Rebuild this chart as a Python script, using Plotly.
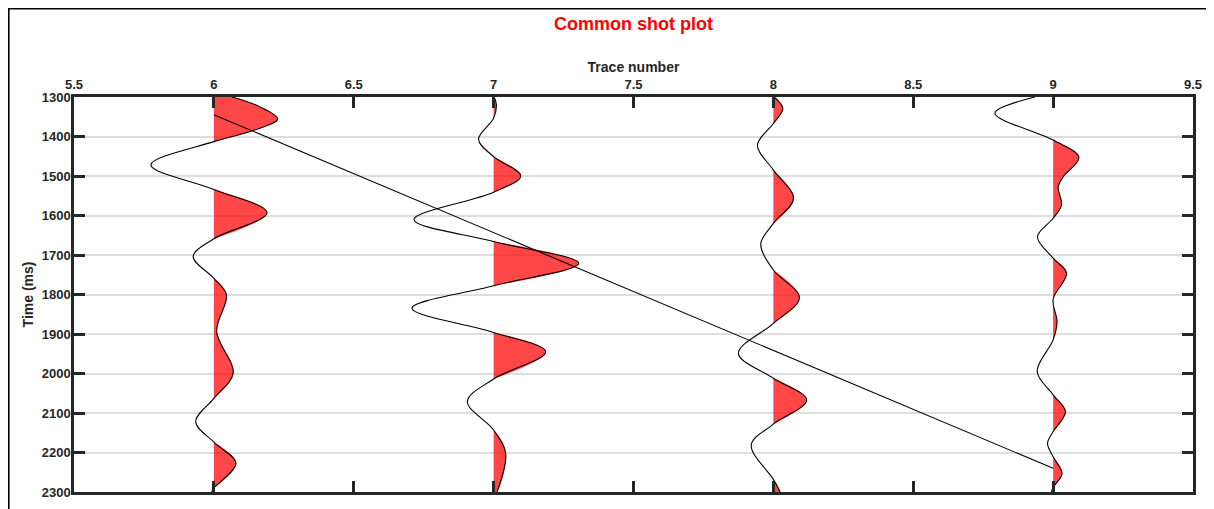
import plotly.graph_objects as go

# ---------------- data ----------------
trace_positions = [6, 7, 8, 9]

t6 = [1300, 1325, 1356, 1385, 1413, 1472, 1534, 1593, 1659, 1704, 1759, 1801, 1894, 1999, 2063, 2122, 2174, 2227, 2290, 2300]
a6 = [0.065, 0.165, 0.228, 0.14, 0.0, -0.225, 0.0, 0.19, 0.0, -0.074, 0.0, 0.045, 0.01, 0.069, 0.0, -0.065, 0.0, 0.079, 0.0, -0.008]

t7 = [1300, 1320, 1354, 1407, 1451, 1500, 1541, 1610, 1666, 1721, 1778, 1835, 1896, 1945, 2014, 2071, 2143, 2202, 2300]
a7 = [0.002, 0.01, 0.0, -0.054, 0.0, 0.097, 0.0, -0.285, 0.0, 0.304, 0.0, -0.292, 0.0, 0.186, 0.0, -0.094, 0.0, 0.043, 0.012]

t8 = [1300, 1329, 1367, 1422, 1485, 1557, 1620, 1672, 1738, 1808, 1873, 1949, 2012, 2067, 2128, 2181, 2268, 2300]
a8 = [0.003, 0.034, 0.0, -0.057, 0.0, 0.072, 0.0, -0.045, 0.0, 0.093, 0.0, -0.125, 0.0, 0.119, 0.0, -0.079, 0.0, 0.024]

t9 = [1300, 1341, 1409, 1453, 1502, 1527, 1573, 1607, 1654, 1708, 1746, 1812, 1869, 1915, 1995, 2054, 2097, 2147, 2177, 2211, 2253, 2288, 2300]
a9 = [-0.065, -0.208, 0.0, 0.092, 0.036, 0.018, 0.03, 0.0, -0.056, 0.0, 0.048, 0.0, 0.014, 0.0, -0.057, 0.0, 0.044, 0.0, -0.02, 0.0, 0.032, 0.0, -0.006]

traces_t = [t6, t7, t8, t9]
traces_a = [a6, a7, a8, a9]

# straight event line
event_x = [6, 9]
event_t = [1345, 2240]

x_ticks = [5.5, 6, 6.5, 7, 7.5, 8, 8.5, 9, 9.5]
y_ticks = [1300, 1400, 1500, 1600, 1700, 1800, 1900, 2000, 2100, 2200, 2300]

title_text = "Common shot plot"
x_title = "Trace number"
y_title = "Time (ms)"

# ---------------- figure ----------------
fig = go.Figure()

FILL = "rgba(255,0,0,0.72)"


def positive_lobes(pos, t, a):
    """Split a trace into its positive lobes, closed along the baseline."""
    xs, ys = [], []
    seg = []

    def flush(seg):
        if len(seg) >= 2:
            if seg[0][1] != 0:
                seg.insert(0, (seg[0][0], 0.0))
            if seg[-1][1] != 0:
                seg.append((seg[-1][0], 0.0))
            for tt, aa in seg:
                xs.append(pos + aa)
                ys.append(tt)
            xs.append(None)
            ys.append(None)

    for tt, aa in zip(t, a):
        if aa >= 0:
            seg.append((tt, aa))
        else:
            flush(seg)
            seg = []
    flush(seg)
    return xs, ys


for pos, t, a in zip(trace_positions, traces_t, traces_a):
    fx, fy = positive_lobes(pos, t, a)
    fig.add_trace(go.Scatter(
        x=fx, y=fy, mode="lines", fill="toself", fillcolor=FILL,
        line=dict(width=0, shape="spline", color=FILL),
        hoverinfo="skip", showlegend=False,
    ))

for pos, t, a in zip(trace_positions, traces_t, traces_a):
    fig.add_trace(go.Scatter(
        x=[pos + v for v in a], y=t, mode="lines",
        line=dict(width=1.1, color="black", shape="spline"),
        showlegend=False,
    ))

fig.add_trace(go.Scatter(
    x=event_x, y=event_t, mode="lines",
    line=dict(width=1.1, color="black"), showlegend=False,
))

AX = "#262626"
FONT = "Arial, 'Liberation Sans', Helvetica, sans-serif"

W, H = 1206, 501
L, T = 66, 89
PW, PH = 1119, 395
R = W - L - PW
B = H - T - PH

fig.update_layout(
    width=W, height=H,
    margin=dict(l=L, r=R, t=T, b=B, autoexpand=False),
    paper_bgcolor="white", plot_bgcolor="white",
    font=dict(family=FONT, color=AX),
    title=dict(
        text=title_text, x=0.5, xref="paper", xanchor="center",
        y=1 - 16 / H, yref="container", yanchor="middle",
        font=dict(size=18, color="#ff0000", family=FONT, weight="bold"),
    ),
    xaxis=dict(
        range=[5.5, 9.5], side="top", tickvals=x_ticks,
        ticktext=[f"{v:g}" for v in x_ticks], automargin=False,
        showgrid=False, zeroline=False,
        showline=True, linecolor=AX, linewidth=2.5, mirror="ticks",
        ticks="inside", ticklen=11, tickwidth=2.5, tickcolor=AX,
        tickfont=dict(size=13, color=AX, family=FONT, weight="bold"),
        title=dict(text=x_title, standoff=2,
                   font=dict(size=14, color=AX, family=FONT, weight="bold")),
    ),
    yaxis=dict(
        range=[2300, 1300], tickvals=y_ticks, automargin=False,
        showgrid=True, gridcolor="#dedede", gridwidth=1.6, zeroline=False,
        showline=True, linecolor=AX, linewidth=2.5, mirror="ticks",
        ticks="inside", ticklen=11, tickwidth=2.5, tickcolor=AX,
        ticklabelstandoff=-2,
        tickfont=dict(size=13, color=AX, family=FONT, weight="bold"),
        title=dict(text=y_title, standoff=5,
                   font=dict(size=14, color=AX, family=FONT, weight="bold")),
    ),
    shapes=[dict(
        type="rect", xref="paper", yref="paper",
        x0=(0.8 - L) / PW, x1=(1204.5 - L) / PW,
        y0=(T + PH - 560) / PH, y1=(T + PH - 0.8) / PH,
        line=dict(color="black", width=1.6), fillcolor="rgba(0,0,0,0)",
        layer="below",
    )],
)

fig.write_html("out.html")
